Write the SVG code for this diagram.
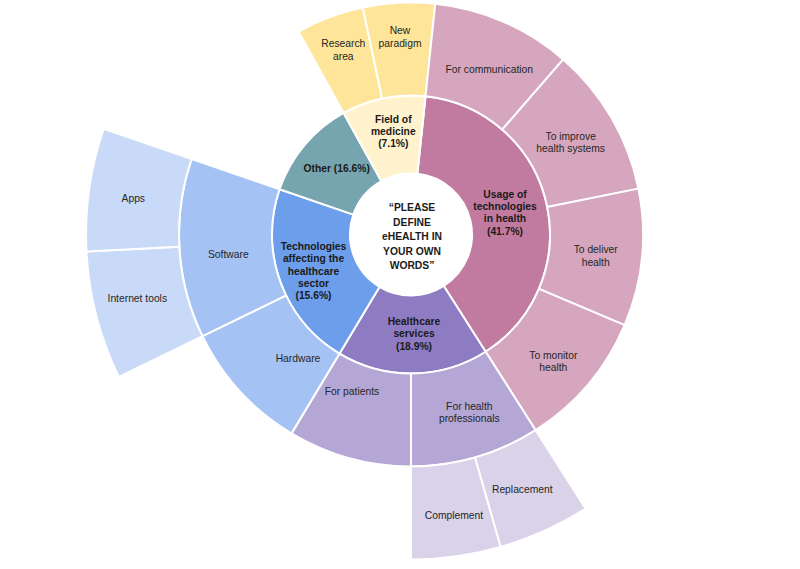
<svg xmlns="http://www.w3.org/2000/svg" width="800" height="569" viewBox="0 0 800 569">
<style>
.s{stroke:#ffffff;stroke-width:2;stroke-linejoin:round}
.b{font-family:"Liberation Sans",Arial,sans-serif;font-size:10.3px;font-weight:bold;fill:#1a1a1a;text-anchor:middle}
.n{font-family:"Liberation Sans",Arial,sans-serif;font-size:10.3px;fill:#262626;text-anchor:middle}
.pk1{fill:#c27ba0}.pk2{fill:#d5a6bd}
.pu1{fill:#8e7cc3}.pu2{fill:#b4a7d6}.pu3{fill:#d9d2e9}
.bl1{fill:#6d9eeb}.bl2{fill:#a4c2f4}.bl3{fill:#c9daf8}
.te1{fill:#76a5af}
.ye1{fill:#fff2cc}.ye2{fill:#ffe599}
</style>
<rect width="800" height="569" fill="#ffffff"/>
<g id="connectors"/>
<g id="center">
<circle cx="411" cy="234.5" r="61" fill="#ffffff"/>
<text class="b" x="412" y="211">“PLEASE</text>
<text class="b" x="412" y="225.5">DEFINE</text>
<text class="b" x="412" y="240">eHEALTH IN</text>
<text class="b" x="412" y="254.5">YOUR OWN</text>
<text class="b" x="412" y="269">WORDS”</text>
</g>
<g id="usage">
<path class="s pk1" d="M 425.53 96.26 A 139 139 0 0 1 485.68 351.73 L 443.78 285.95 A 61 61 0 0 0 417.38 173.83 Z"/>
<text class="b" x="505" y="198">Usage of</text>
<text class="b" x="505" y="210.3">technologies</text>
<text class="b" x="505" y="222.3">in health</text>
<text class="b" x="505" y="234.5">(41.7%)</text>
</g>
<g id="healthcare">
<path class="s pu1" d="M 485.68 351.73 A 139 139 0 0 1 339.41 353.65 L 379.58 286.79 A 61 61 0 0 0 443.78 285.95 Z"/>
<text class="b" x="414" y="325">Healthcare</text>
<text class="b" x="414" y="337.3">services</text>
<text class="b" x="414" y="350.3">(18.9%)</text>
</g>
<g id="technologies">
<path class="s bl1" d="M 339.41 353.65 A 139 139 0 0 1 279.57 189.25 L 353.32 214.64 A 61 61 0 0 0 379.58 286.79 Z"/>
<text class="b" x="313.5" y="250">Technologies</text>
<text class="b" x="313.5" y="262.3">affecting the</text>
<text class="b" x="313.5" y="274.6">healthcare</text>
<text class="b" x="313.5" y="286.8">sector</text>
<text class="b" x="313.5" y="299">(15.6%)</text>
</g>
<g id="other">
<path class="s te1" d="M 279.57 189.25 A 139 139 0 0 1 343.61 112.93 L 381.43 181.15 A 61 61 0 0 0 353.32 214.64 Z"/>
<text class="b" x="336.7" y="171.5">Other (16.6%)</text>
</g>
<g id="field">
<path class="s ye1" d="M 343.61 112.93 A 139 139 0 0 1 425.53 96.26 L 417.38 173.83 A 61 61 0 0 0 381.43 181.15 Z"/>
<text class="b" x="393.3" y="123">Field of</text>
<text class="b" x="393.3" y="135.3">medicine</text>
<text class="b" x="393.3" y="147.2">(7.1%)</text>
</g>
<g id="research-area">
<path class="s ye2" d="M 298.52 31.59 A 232 232 0 0 1 362.76 7.57 L 382.10 98.54 A 139 139 0 0 0 343.61 112.93 Z"/>
<text class="n" x="343.3" y="47">Research</text>
<text class="n" x="343.3" y="59.7">area</text>
</g>
<g id="new-paradigm">
<path class="s ye2" d="M 362.76 7.57 A 232 232 0 0 1 435.25 3.77 L 425.53 96.26 A 139 139 0 0 0 382.10 98.54 Z"/>
<text class="n" x="400" y="34">New</text>
<text class="n" x="400" y="46.5">paradigm</text>
</g>
<g id="for-communication">
<path class="s pk2" d="M 435.25 3.77 A 232 232 0 0 1 563.21 59.41 L 502.19 129.60 A 139 139 0 0 0 425.53 96.26 Z"/>
<text class="n" x="489.3" y="73">For communication</text>
</g>
<g id="to-improve">
<path class="s pk2" d="M 563.21 59.41 A 232 232 0 0 1 638.42 188.64 L 547.26 207.03 A 139 139 0 0 0 502.19 129.60 Z"/>
<text class="n" x="570.7" y="139.5">To improve</text>
<text class="n" x="570.7" y="151.5">health systems</text>
</g>
<g id="to-deliver">
<path class="s pk2" d="M 638.42 188.64 A 232 232 0 0 1 624.56 325.15 L 538.95 288.81 A 139 139 0 0 0 547.26 207.03 Z"/>
<text class="n" x="595.7" y="253">To deliver</text>
<text class="n" x="595.7" y="265.5">health</text>
</g>
<g id="to-monitor">
<path class="s pk2" d="M 624.56 325.15 A 232 232 0 0 1 535.65 430.17 L 485.68 351.73 A 139 139 0 0 0 538.95 288.81 Z"/>
<text class="n" x="553.3" y="359">To monitor</text>
<text class="n" x="553.3" y="370.5">health</text>
</g>
<g id="for-health-professionals">
<path class="s pu2" d="M 535.65 430.17 A 232 232 0 0 1 411 466.5 L 411 373.5 A 139 139 0 0 0 485.68 351.73 Z"/>
<text class="n" x="469.3" y="410">For health</text>
<text class="n" x="469.3" y="422.3">professionals</text>
</g>
<g id="for-patients">
<path class="s pu2" d="M 411 466.5 A 232 232 0 0 1 291.51 433.36 L 339.41 353.65 A 139 139 0 0 0 411 373.5 Z"/>
<text class="n" x="352" y="395">For patients</text>
</g>
<g id="hardware">
<path class="s bl2" d="M 291.51 433.36 A 232 232 0 0 1 202.48 336.20 L 286.07 295.43 A 139 139 0 0 0 339.41 353.65 Z"/>
<text class="n" x="298" y="362">Hardware</text>
</g>
<g id="software">
<path class="s bl2" d="M 202.48 336.20 A 232 232 0 0 1 191.64 158.97 L 279.57 189.25 A 139 139 0 0 0 286.07 295.43 Z"/>
<text class="n" x="228.3" y="258">Software</text>
</g>
<g id="replacement">
<path class="s pu3" d="M 585.62 508.60 A 325 325 0 0 1 500.58 546.91 L 474.95 457.51 A 232 232 0 0 0 535.65 430.17 Z"/>
<text class="n" x="522.3" y="493">Replacement</text>
</g>
<g id="complement">
<path class="s pu3" d="M 500.58 546.91 A 325 325 0 0 1 411 559.5 L 411 466.5 A 232 232 0 0 0 474.95 457.51 Z"/>
<text class="n" x="454" y="519">Complement</text>
</g>
<g id="internet-tools">
<path class="s bl3" d="M 118.89 376.97 A 325 325 0 0 1 86.45 251.51 L 179.32 246.64 A 232 232 0 0 0 202.48 336.20 Z"/>
<text class="n" x="137.3" y="301.5">Internet tools</text>
</g>
<g id="apps">
<path class="s bl3" d="M 86.45 251.51 A 325 325 0 0 1 103.71 128.69 L 191.64 158.97 A 232 232 0 0 0 179.32 246.64 Z"/>
<text class="n" x="133.3" y="202">Apps</text>
</g>
</svg>
